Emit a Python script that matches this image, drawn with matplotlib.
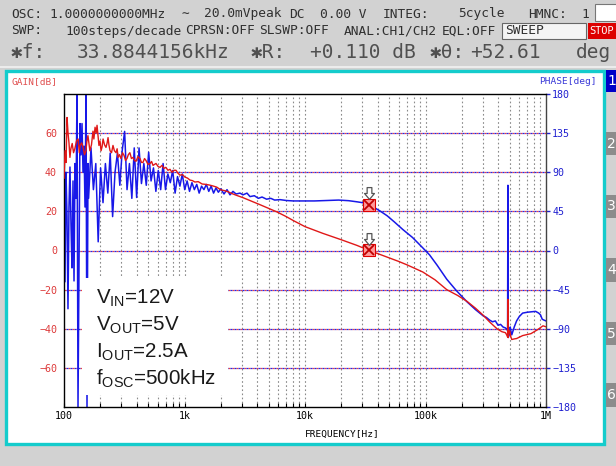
import matplotlib
matplotlib.use('Agg')
import matplotlib.pyplot as plt
from matplotlib.patches import Rectangle
from matplotlib.path import Path
from matplotlib.ticker import NullFormatter
import matplotlib.transforms as mtransforms

W, H = 616, 466

# ---------------- data ----------------
freq_ticks = [100, 1000, 10000, 100000, 1000000]
freq_tick_labels = ['100', '1k', '10k', '100k', '1M']
gain_ticks = [60, 40, 20, 0, -20, -40, -60]
phase_ticks = [180, 135, 90, 45, 0, -45, -90, -135, -180]
phase_grid = [135, 90, 45, 0, -45, -90, -135]
freq_grid = [200, 300, 400, 500, 600, 700, 800, 900, 1000,
             2000, 3000, 4000, 5000, 6000, 7000, 8000, 9000, 10000,
             20000, 30000, 40000, 50000, 60000, 70000, 80000, 90000, 100000,
             200000, 300000, 400000, 500000, 600000, 700000, 800000, 900000]

gain_freq = [100, 102, 104, 106, 108, 110, 112, 114, 117, 120, 123, 127, 131, 134, 136, 140,
             144, 148, 152, 155, 158, 161, 164, 169, 174, 177, 181, 185, 188, 192, 195, 199,
             203, 207, 211, 217, 223, 228, 232, 236, 241, 248, 255, 262, 270, 276, 281, 289,
             297, 306, 315, 324, 333, 342, 352, 363, 374, 385, 396, 411, 427, 440, 452, 466,
             479, 498, 518, 533, 548, 564, 580, 603, 626, 650, 675, 700, 729, 758, 787, 818,
             850, 883, 918, 962, 1010, 1060, 1110, 1165, 1220, 1300, 1400, 1500, 1600, 1720,
             1850, 2000, 2150, 2300, 2500, 2700, 3060, 3600, 4200, 5000, 5860, 7000, 8000,
             10000, 14000, 20000, 27000, 33884, 41900, 50000, 60000, 70000, 82000, 95000,
             120000, 150000, 185000, 221000, 260000, 300000, 340000, 392000, 430000, 460000,
             476000, 480000, 483000, 486000, 492000, 500000, 510000, 520000, 545000, 570000,
             640000, 750000, 850000, 944000, 1000000]
gain_db = [37, 51, 45, 68, 60, 55, 47.6, 52, 54.7, 50, 52, 56, 57, 50, 53.7, 55,
           52.7, 49, 51, 56, 58.7, 55, 51, 54, 61, 57, 63, 60, 64, 58, 53.7, 56,
           51, 53, 57, 54, 52.7, 55, 57.7, 54, 51, 50, 53.7, 51, 50, 52, 47.6, 49,
           47, 50, 48.6, 46, 47, 49, 50, 47, 47.6, 46, 45.6, 48, 47, 45, 45, 47,
           46, 44, 44.5, 45.5, 43.5, 44, 44.5, 43, 42.5, 43.5, 42, 42.5, 41, 41.5, 40, 41,
           41, 39.5, 38.5, 38.8, 37.5, 37, 36, 35.7, 35, 35.2, 34, 33.8, 33.5, 33,
           32.4, 31, 30.6, 30, 29, 28.2, 27, 25.2, 23.5, 21.5, 19.7, 17.3, 15.3,
           12.2, 8.8, 5.5, 2.6, 0.11, -2.0, -3.8, -5.6, -7.3, -9.2, -11,
           -15, -20, -23, -26, -29.5, -33, -36.5, -40, -41.5, -42,
           -43.5, -44.2, -25, -44.5, -42, -41, -44, -45.5, -45.2, -45,
           -43.5, -42.5, -40.5, -38.5, -39]

phase_freq = [100, 101.9, 103.9, 105.9, 107.9, 110, 112.1, 114.3, 116.5, 118.8, 121.1, 123.4,
              125.8, 128.2, 130.7, 135.8, 138.4, 141.1, 143.8, 146.6, 149.4, 152.3, 155.2,
              158.2, 160, 167.5, 175.4, 183.6, 192.2, 201.2, 210.7, 220.6, 231, 241.8,
              253.2, 265.1, 277.5, 290.6, 304.2, 318.5, 333.5, 349.2, 365.6, 382.8, 400.8,
              419.6, 439.3, 460, 481.6, 504.2, 527.9, 552.7, 578.7, 605.9, 634.4, 664.2,
              695.4, 728.1, 762.3, 798.1, 835.6, 874.9, 916, 959, 1004, 1051, 1101, 1153,
              1207, 1264, 1323, 1385, 1450, 1518, 1590, 1664, 1743, 1825, 1910, 2000, 2127,
              2253, 2386, 2526, 2676, 2888, 3058, 3300, 3497, 3800, 4100, 4400, 4800, 5200,
              5600, 6200, 7000, 8000, 10000, 12000, 15000, 19000, 23000, 27000, 30000,
              33884, 38000, 41900, 48000, 55000, 65000, 78000, 95000, 108000, 125000,
              150000, 180000, 221000, 260000, 300000, 320000, 340000, 360000, 380000,
              400000, 420000, 440000, 460000, 475000, 480000, 483000, 486000, 492000,
              500000, 505000, 510000, 520000, 545000, 570000, 600000, 640000, 700000,
              760000, 820000, 870000, 900000, 930000, 960000, 1000000]
phase_deg = [75, -36, 90, 40, -67, 50, 96, 30, -20, 80, -35, 100,
             60, 180, -180, 146, 110, 146, 90, 120, 50, 180, -180,
             100, 60, 118, 70, 100, 10, 95, 55, 100, 66, 112,
             39, 90, 112, 75, 115, 137, 70, 100, 60, 118, 61,
             118, 77, 100, 75, 113, 80, 95, 68, 92, 70, 100,
             70, 88, 78, 92, 66, 85, 74, 88, 70, 80, 68, 78,
             70, 76, 66, 74, 70, 76, 68, 74, 66, 72, 67, 71, 65,
             70, 64, 68, 65, 66, 64, 66, 62, 63, 60, 61.5, 59, 60,
             58, 58.5, 57.5, 57, 57, 57, 57.5, 58, 57.3, 56, 55,
             52.61, 49, 45.5, 40, 33, 24, 15, 3, -5, -17,
             -33, -46, -59, -68, -75, -77, -80, -82, -81,
             -86, -85, -88, -89, -91, -92, 75, -100, -98,
             -96, -88, -92, -97, -88, -81, -76, -72, -71,
             -70.5, -70, -72, -74, -79, -80, -81]

marker_freq = 33884.4156
marker_gain = 0.110
marker_phase = 52.61

conditions = [('V', 'IN', '=12V'), ('V', 'OUT', '=5V'), ('I', 'OUT', '=2.5A'), ('f', 'OSC', '=500kHz')]

header_line1 = [(11, 'OSC:'), (49, '1.0000000000MHz'), (181, '∼'), (204, '20.0mVpeak'),
                (289, 'DC'), (320, '0.00 V'), (383, 'INTEG:'), (458, '5cycle'),
                (528, 'HMNC:'), (581, '1')]
header_line2 = [(11, 'SWP:'), (65, '100steps/decade'), (185, 'CPRSN:OFF'), (259, 'SLSWP:OFF'),
                (344, 'ANAL:CH1/CH2'), (442, 'EQL:OFF')]
header_line3 = [(11, '✱f:'), (77, '33.8844156kHz'), (251, '✱R:'), (310, '+0.110 dB'),
                (430, '✱θ:'), (470, '+52.61'), (576, 'deg')]

# ---------------- figure ----------------
plt.rcParams['font.family'] = ['DejaVu Sans Mono', 'DejaVu Sans']
fig = plt.figure(figsize=(W / 100, H / 100), dpi=100, facecolor='#d2d2d2')


def X(px):
    return px / W


def Y(py):
    return 1 - py / H


def prect(x0, y0, x1, y1, **kw):
    r = Rectangle((X(x0), Y(y1)), (x1 - x0) / W, (y1 - y0) / H,
                  transform=fig.transFigure, **kw)
    fig.add_artist(r)
    return r


# header separator
prect(0, 66, 616, 68, facecolor='#ececec', edgecolor='none', zorder=-9)
# main panel with cyan frame
prect(5.5, 70.5, 603.5, 444, facecolor='white', edgecolor='#14cccc', lw=2.4, zorder=-8)

# right tabs
tabs = [(70, 92, '#0000c8', '1'), (132, 155, '#8c8c8c', '2'), (195, 218, '#8c8c8c', '3'),
        (258, 282, '#8c8c8c', '4'), (322, 345, '#8c8c8c', '5'), (383, 407, '#8c8c8c', '6')]
for y0, y1, c, t in tabs:
    prect(606, y0, 616, y1, facecolor=c, edgecolor='none', zorder=-7)
    fig.text(X(611.5), Y((y0 + y1) / 2), t, color='white', fontsize=10, ha='center',
             va='center', family=['DejaVu Sans'])

# header texts
for x, t in header_line1:
    fig.text(X(x), Y(14), t, fontsize=9.3, color='#303030', ha='left', va='center')
for x, t in header_line2:
    fig.text(X(x), Y(31), t, fontsize=9.3, color='#303030', ha='left', va='center')
for x, t in header_line3:
    fig.text(X(x), Y(52), t, fontsize=14, color='#505050', ha='left', va='center')
prect(595, 4, 617, 21, facecolor='white', edgecolor='#777777', lw=0.8, zorder=-7)
prect(502, 23, 586, 39, facecolor='#f4f4f4', edgecolor='#666666', lw=0.8, zorder=-7)
fig.text(X(505), Y(31), 'SWEEP', fontsize=9.3, color='#303030', ha='left', va='center')
prect(588, 23, 617, 39, facecolor='#dd0000', edgecolor='none', zorder=-7)
fig.text(X(589), Y(31), 'STOP', fontsize=7.4, color='white', ha='left', va='center')

# ---------------- axes ----------------
ax = fig.add_axes([X(64), Y(407), (546 - 64) / W, (407 - 94) / H])
ax2 = ax.twinx()
ax.set_zorder(2)
ax.patch.set_visible(False)
ax2.patch.set_visible(True)
ax2.patch.set_facecolor('white')

ax.set_xscale('log')
ax.set_xlim(100, 1e6)
ax.set_ylim(-80, 80)
ax2.set_ylim(-180, 180)

# grid (drawn on the lower axes)
for f in freq_grid:
    ax2.axvline(f, color='#8a8a8a', lw=0.8, ls=(0, (1.5, 2.2)), zorder=0.5)
for p in phase_grid:
    ax2.axhline(p, color='#ee4040', lw=0.9, ls=(0, (1.6, 1.6)), zorder=1)
    ax2.axhline(p, color='#2a2ae6', lw=0.9, ls=(1.6, (1.6, 1.6)), zorder=1)

# curves
ax2.plot(phase_freq, phase_deg, color='#1818e8', lw=1.1, zorder=3)
ax.plot(gain_freq, gain_db, color='#e01818', lw=1.0, zorder=3)

# markers
arrow = Path([(-0.2, 0.5), (0.2, 0.5), (0.2, 0.0), (0.42, 0.0), (0, -0.5), (-0.42, 0.0),
              (-0.2, 0.0), (-0.2, 0.5)], closed=True)
for a, val in ((ax, marker_gain), (ax2, marker_phase)):
    a.plot([marker_freq], [val], marker='s', ms=8.5, mfc='#ff9a9a', mec='#e00000', mew=0.8,
           ls='none', zorder=6)
    a.plot([marker_freq], [val], marker='x', ms=7, mec='#c00000', mew=1.3, ls='none', zorder=7)
    tr = mtransforms.offset_copy(a.transData, fig=fig, x=0, y=11.5, units='dots')
    a.plot([marker_freq], [val], marker=arrow, ms=8.5, mfc='white', mec='#555555', mew=0.9,
           ls='none', transform=tr, zorder=8, clip_on=False)

# ticks
ax.set_xticks(freq_ticks, freq_tick_labels)
ax.set_xticks(freq_grid, minor=True)
ax.xaxis.set_minor_formatter(NullFormatter())
ax.tick_params(axis='x', which='both', direction='in', length=3, width=0.8, color='black',
               labelsize=7.2, pad=3, top=False)
ax.set_yticks(gain_ticks)
ax.tick_params(axis='y', length=0, pad=5, labelcolor='#dd3a3a', labelsize=7.2)
ax2.set_yticks(phase_ticks)
ax2.tick_params(axis='y', direction='out', length=3, width=1, color='#2020d0',
                labelcolor='#2020d0', labelsize=7.2, pad=1.5)
for s in ax2.spines.values():
    s.set_visible(False)
for s in ax.spines.values():
    s.set_color('black')
    s.set_linewidth(1.0)
ax.spines['right'].set_color('#444444')

# axis labels
fig.text(X(12), Y(82), 'GAIN[dB]', color='#e05050', fontsize=6.8, ha='left', va='center')
fig.text(X(597), Y(82), 'PHASE[deg]', color='#3a3ad8', fontsize=6.8, ha='right', va='center')
fig.text(X(342), Y(434), 'FREQUENCY[Hz]', color='black', fontsize=6.8, ha='center', va='center')

# condition text box
prect(82, 278, 228, 395, facecolor='white', edgecolor='none', zorder=5)
baselines = [303, 330, 357, 384]
for (main, sub, rest), yb in zip(conditions, baselines):
    fig.text(X(96), Y(yb), main + r'$_\mathregular{' + sub + '}$' + rest, fontsize=14.8,
             family=['Liberation Sans'], color='#1a1a1a',
             ha='left', va='baseline', zorder=6)

fig.savefig('out.png', dpi=100, facecolor=fig.get_facecolor())
